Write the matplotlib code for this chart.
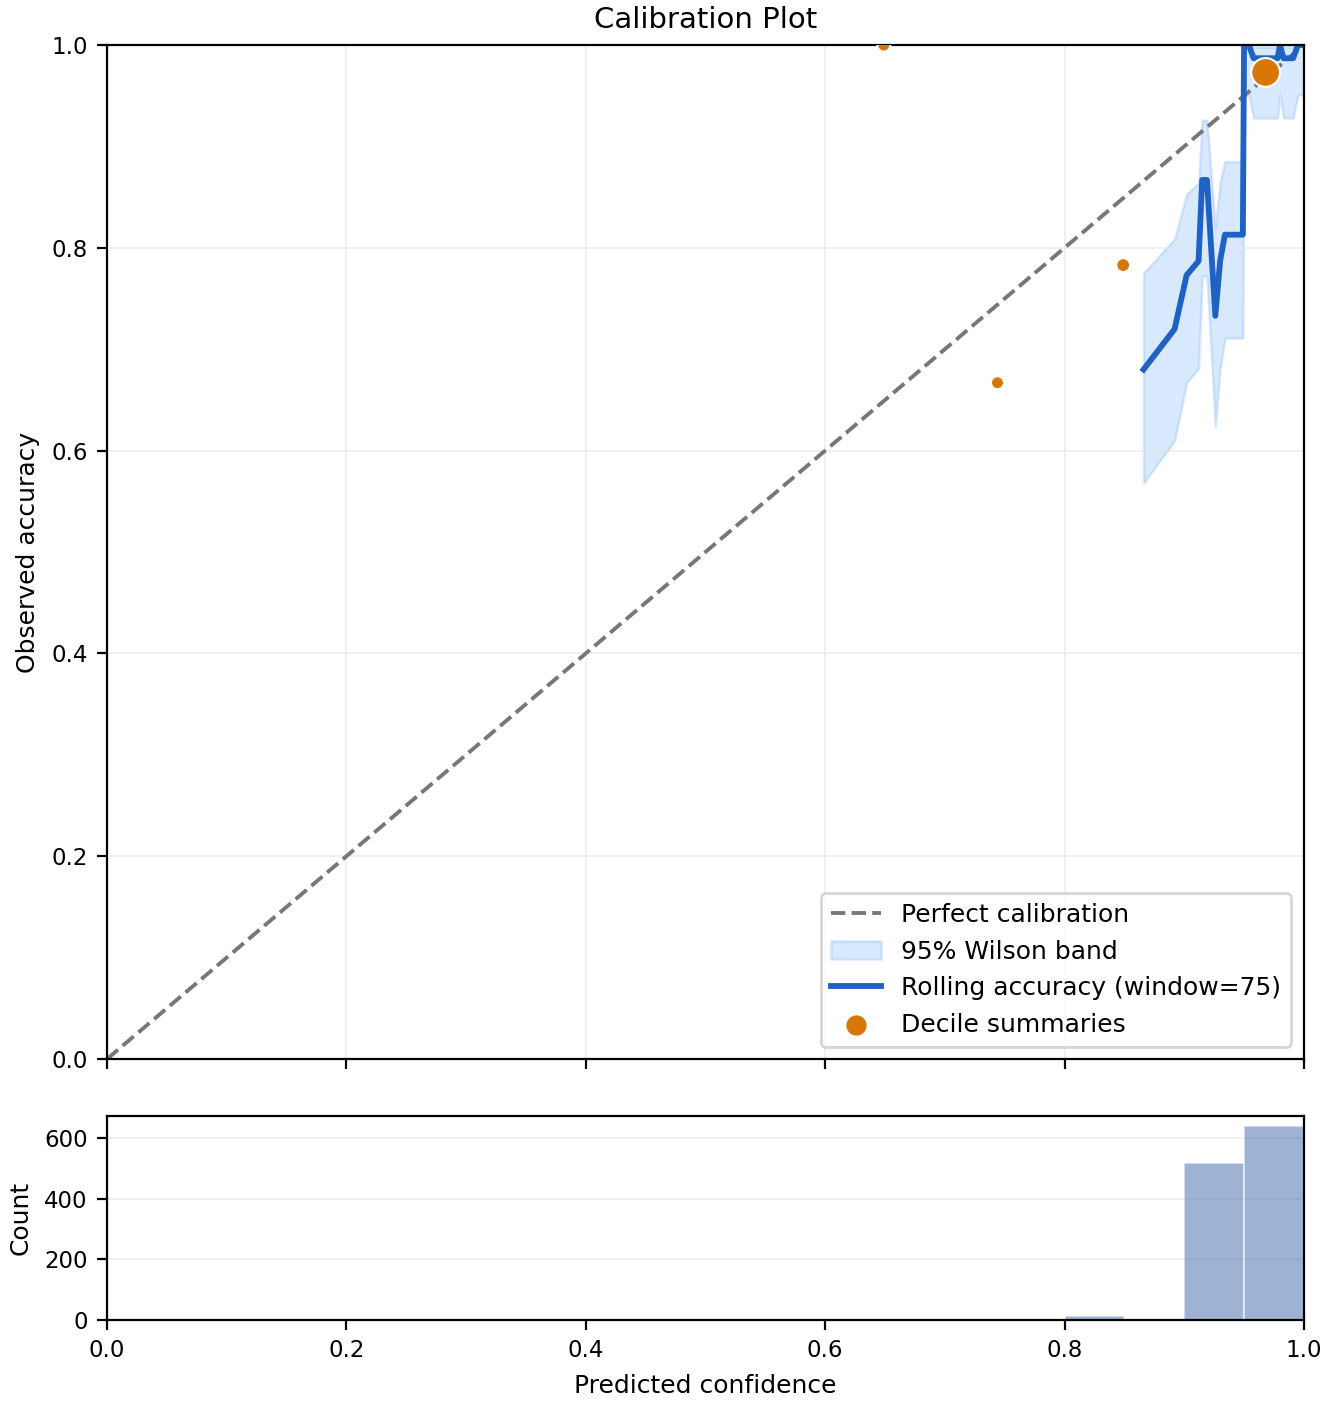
import numpy as np
import matplotlib
matplotlib.use("Agg")
import matplotlib.pyplot as plt

# rolling accuracy over sorted confidences (window=75)
roll_conf = [0.866, 0.892, 0.902, 0.912, 0.915, 0.919, 0.926, 0.930, 0.934, 0.949,
             0.950, 0.954, 0.958, 0.978, 0.980, 0.983, 0.991, 0.995, 1.000]
roll_acc = [0.680, 0.720, 0.773, 0.787, 0.867, 0.867, 0.733, 0.787, 0.813, 0.813,
            1.000, 1.000, 0.987, 0.987, 1.000, 0.987, 0.987, 1.000, 1.000]
# 95% Wilson band
band_lo = [0.568, 0.610, 0.667, 0.681, 0.772, 0.772, 0.624, 0.681, 0.711, 0.711,
           0.951, 0.951, 0.928, 0.928, 0.951, 0.928, 0.928, 0.951, 0.951]
band_hi = [0.775, 0.809, 0.853, 0.864, 0.926, 0.926, 0.820, 0.864, 0.885, 0.885,
           1.000, 1.000, 0.998, 0.998, 1.000, 0.998, 0.998, 1.000, 1.000]

# decile summaries
dec_conf = [0.649, 0.744, 0.849, 0.968]
dec_acc = [1.000, 0.667, 0.783, 0.973]
dec_size = [22, 22, 25, 107]

# confidence histogram (bin width 0.05)
hist_edges = [0.80, 0.85, 0.90, 0.95, 1.00]
hist_counts = [13, 0, 517, 640]

fig = plt.figure(figsize=(6.66, 7.02), dpi=200)
ax = fig.add_axes([0.0803, 0.2457, 0.8986, 0.7222])
axh = fig.add_axes([0.0803, 0.0598, 0.8986, 0.1453], sharex=ax)

ax.plot([0, 1], [0, 1], ls="--", color="#777777", lw=1.4, label="Perfect calibration")
ax.fill_between(roll_conf, band_lo, band_hi, color="#6aa8fa", alpha=0.25,
                lw=0.9, label="95% Wilson band")
ax.plot(roll_conf, roll_acc, color="#2062c4", lw=2.1, label="Rolling accuracy (window=75)")
ax.scatter(dec_conf, dec_acc, s=dec_size, color="#d97706", edgecolor="white",
           linewidth=0.75, zorder=4, label="Decile summaries")

ax.set_xlim(0, 1)
ax.set_ylim(0, 1)
ax.set_ylabel("Observed accuracy", fontsize=9)
ax.set_title("Calibration Plot", fontsize=10.5)
ax.grid(True, color="#e4e4e4", alpha=0.7, lw=0.6)
ax.tick_params(labelbottom=False, labelsize=8.25)
ax.legend(loc="lower right", fontsize=9)

widths = np.diff(hist_edges)
axh.bar(hist_edges[:-1], hist_counts, width=widths, align="edge",
        color="#4c72b0", alpha=0.54, edgecolor="white", linewidth=0.75)
axh.set_ylabel("Count", fontsize=9)
axh.set_xlabel("Predicted confidence", fontsize=9)
axh.grid(True, axis="y", color="#e4e4e4", alpha=0.7, lw=0.6)
axh.set_axisbelow(True)
axh.tick_params(labelsize=8.25)
axh.set_xlim(0, 1)

fig.savefig("out.png", dpi=200)
